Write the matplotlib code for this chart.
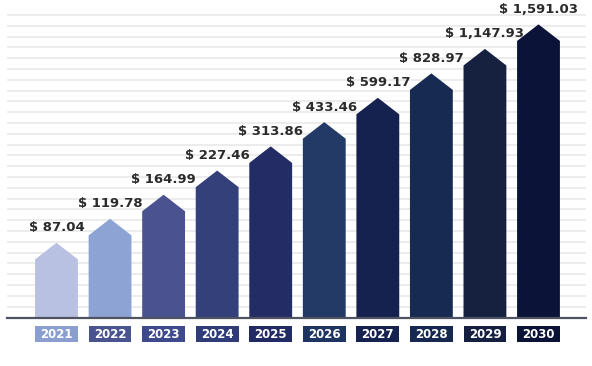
import numpy as np
import matplotlib.pyplot as plt
from matplotlib.patches import Polygon, Rectangle

years = ["2021", "2022", "2023", "2024", "2025", "2026", "2027", "2028", "2029", "2030"]
values = [87.04, 119.78, 164.99, 227.46, 313.86, 433.46, 599.17, 828.97, 1147.93, 1591.03]
bar_colors = ["#b8c1e2", "#8da3d4", "#4a5290", "#33407a", "#242c66",
              "#233a66", "#152250", "#172a52", "#16203f", "#0b1438"]
box_colors = ["#8a9fd0", "#4a5590", "#3f4a8c", "#2f3c78", "#222a64",
              "#1e3561", "#152250", "#16284f", "#152040", "#0a1236"]

fig = plt.figure(figsize=(5.92, 3.66), dpi=100)
ax = fig.add_axes([7 / 592, 48 / 366, 579 / 592, 318 / 366])
ax.set_yscale("log")
ax.set_ylim(32, 2200)
ax.set_xlim(-0.924, 9.887)
ax.axis("off")

# light stripes in the background
for k in range(28):
    yf = (318 - (15 + k * 10.8)) / 318
    ax.plot([0.002, 0.998], [yf, yf], transform=ax.transAxes,
            color="#ebebeb", lw=1.3, zorder=0)

hw = 0.40
tip = 1.247
for i, (yr, v) in enumerate(zip(years, values)):
    base = ax.get_ylim()[0]
    verts = [(i - hw, base), (i - hw, v / tip), (i, v), (i + hw, v / tip), (i + hw, base)]
    ax.add_patch(Polygon(verts, closed=True, facecolor=bar_colors[i],
                         edgecolor="none", zorder=2))
    ax.annotate(f"$ {v:,.2f}", (i, v), xytext=(0, 15), textcoords="offset pixels",
                ha="center", va="center", fontsize=9.5, fontweight="bold",
                color="#2b2b2b")
    ax.add_patch(Rectangle((i - hw, -0.0755), 2 * hw, 0.0505,
                           transform=ax.get_xaxis_transform(), clip_on=False,
                           facecolor=box_colors[i], edgecolor="none"))
    ax.text(i, -0.051, yr, transform=ax.get_xaxis_transform(), ha="center",
            va="center", fontsize=8.5, fontweight="bold", color="white")

ax.plot([0, 1], [0, 0], transform=ax.transAxes, color="#4f5260", lw=1.6,
        zorder=3, clip_on=False)

fig.savefig("out.png", dpi=100, facecolor="white")
